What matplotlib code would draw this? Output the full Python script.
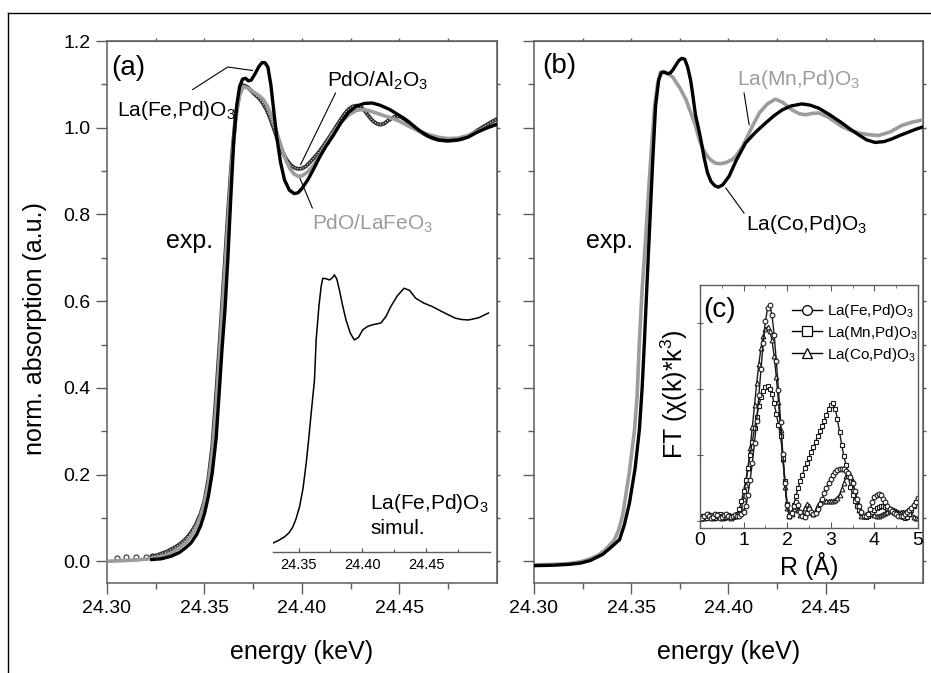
import matplotlib
matplotlib.use('Agg')
import matplotlib.pyplot as plt
from matplotlib.lines import Line2D
from matplotlib.ticker import FixedLocator, MultipleLocator, NullFormatter, NullLocator, FormatStrFormatter

plt.rcParams['font.family'] = ['Liberation Sans', 'DejaVu Sans']
plt.rcParams['mathtext.fontset'] = 'custom'
plt.rcParams['mathtext.rm'] = 'Liberation Sans'
plt.rcParams['mathtext.it'] = 'Liberation Sans:italic'
plt.rcParams['mathtext.default'] = 'regular'

AXC = '#5c5c5c'
GRAY = '#9c9c9c'

# ---- (a) Pd K-edge XANES, experiment ----
e_lafe = [24.323, 24.328, 24.333, 24.337, 24.340, 24.343, 24.346, 24.348, 24.350, 24.352,
          24.354, 24.356, 24.3577, 24.359, 24.3605, 24.362, 24.3635, 24.365, 24.3665, 24.368,
          24.3695, 24.371, 24.3725, 24.374, 24.376, 24.378, 24.3795, 24.381, 24.3825, 24.384,
          24.3855, 24.387, 24.389, 24.391, 24.3935, 24.396, 24.398, 24.400, 24.403, 24.406,
          24.409, 24.412, 24.416, 24.420, 24.424, 24.428, 24.432, 24.436, 24.440, 24.445,
          24.450, 24.455, 24.460, 24.465, 24.470, 24.475, 24.480, 24.485, 24.490, 24.495, 24.500]
mu_lafe = [0.004, 0.006, 0.012, 0.020, 0.030, 0.042, 0.062, 0.082, 0.110, 0.150,
           0.205, 0.285, 0.400, 0.490, 0.580, 0.700, 0.840, 0.970, 1.050, 1.095,
           1.112, 1.114, 1.108, 1.110, 1.125, 1.142, 1.150, 1.150, 1.140, 1.100,
           1.040, 0.980, 0.920, 0.880, 0.856, 0.848, 0.850, 0.860, 0.880, 0.905,
           0.932, 0.955, 0.982, 1.012, 1.036, 1.050, 1.056, 1.057, 1.052, 1.042,
           1.028, 1.012, 0.994, 0.980, 0.972, 0.970, 0.972, 0.978, 0.990, 1.000, 1.008]

e_al = [24.305, 24.310, 24.315, 24.320, 24.323, 24.3255, 24.328, 24.3305, 24.333, 24.3355,
        24.338, 24.3405, 24.343, 24.3455, 24.348, 24.350, 24.352, 24.354, 24.356, 24.358,
        24.360, 24.362, 24.364, 24.366, 24.368, 24.370, 24.372, 24.374, 24.376, 24.378,
        24.380, 24.382, 24.384, 24.386, 24.388, 24.390, 24.392, 24.394, 24.396, 24.398,
        24.400, 24.402, 24.404, 24.406, 24.408, 24.410, 24.412, 24.414, 24.416, 24.418,
        24.420, 24.422, 24.424, 24.426, 24.428, 24.430, 24.432, 24.434, 24.436, 24.438,
        24.440, 24.442, 24.444, 24.446, 24.448, 24.450, 24.452, 24.455, 24.458, 24.461,
        24.464, 24.467, 24.470, 24.474, 24.478, 24.482, 24.486, 24.490, 24.494, 24.497, 24.500]
mu_al = [0.008, 0.009, 0.010, 0.011, 0.012, 0.014, 0.018, 0.022, 0.028, 0.034,
         0.042, 0.052, 0.066, 0.084, 0.110, 0.140, 0.190, 0.265, 0.385, 0.520,
         0.660, 0.800, 0.930, 1.030, 1.080, 1.098, 1.094, 1.085, 1.076, 1.068,
         1.056, 1.040, 1.018, 0.992, 0.966, 0.944, 0.927, 0.915, 0.908, 0.905,
         0.906, 0.911, 0.920, 0.930, 0.940, 0.952, 0.965, 0.978, 0.992, 1.006,
         1.020, 1.033, 1.043, 1.049, 1.051, 1.049, 1.040, 1.028, 1.017, 1.010,
         1.007, 1.009, 1.016, 1.022, 1.026, 1.026, 1.022, 1.012, 1.000, 0.990,
         0.982, 0.976, 0.972, 0.970, 0.971, 0.974, 0.982, 0.994, 1.005, 1.013, 1.020]

e_lfo = [24.300, 24.305, 24.310, 24.315, 24.320, 24.325, 24.330, 24.334, 24.338, 24.341,
         24.344, 24.346, 24.348, 24.350, 24.352, 24.354, 24.356, 24.358, 24.360, 24.362,
         24.364, 24.366, 24.368, 24.370, 24.372, 24.374, 24.376, 24.378, 24.380, 24.382,
         24.384, 24.386, 24.388, 24.390, 24.392, 24.394, 24.396, 24.398, 24.400, 24.403,
         24.406, 24.409, 24.412, 24.416, 24.420, 24.424, 24.428, 24.431, 24.434, 24.438,
         24.442, 24.446, 24.450, 24.455, 24.460, 24.465, 24.470, 24.475, 24.480, 24.485,
         24.490, 24.495, 24.500]
mu_lfo = [0.000, 0.001, 0.002, 0.003, 0.005, 0.008, 0.014, 0.022, 0.034, 0.046,
          0.064, 0.082, 0.105, 0.135, 0.180, 0.250, 0.360, 0.500, 0.640, 0.780,
          0.920, 1.020, 1.075, 1.095, 1.092, 1.086, 1.080, 1.074, 1.066, 1.052,
          1.032, 1.006, 0.976, 0.948, 0.922, 0.904, 0.893, 0.888, 0.889, 0.898,
          0.914, 0.935, 0.958, 0.988, 1.012, 1.030, 1.040, 1.042, 1.040, 1.034,
          1.028, 1.022, 1.015, 1.003, 0.992, 0.984, 0.978, 0.975, 0.976, 0.982,
          0.992, 1.000, 1.008]

# simulated La(Fe,Pd)O3 spectrum (inset energy scale)
e_sim = [24.3295, 24.3340, 24.3391, 24.3425, 24.3456, 24.3480, 24.3508, 24.3535, 24.3560, 24.3580,
         24.3599, 24.3625, 24.3638, 24.3660, 24.3677, 24.3690, 24.3715, 24.3742, 24.3765, 24.3781,
         24.3800, 24.3820, 24.3845, 24.3872, 24.3905, 24.3937, 24.3970, 24.4002, 24.4040, 24.4080,
         24.4145, 24.4185, 24.4223, 24.4275, 24.4327, 24.4370, 24.4418, 24.4480, 24.4547, 24.4625,
         24.4680, 24.4729, 24.4780, 24.4832, 24.4910, 24.4988]
mu_sim = [0.044, 0.050, 0.059, 0.068, 0.082, 0.100, 0.128, 0.170, 0.228, 0.285,
          0.343, 0.420, 0.512, 0.590, 0.635, 0.654, 0.653, 0.650, 0.655, 0.662,
          0.652, 0.627, 0.592, 0.558, 0.528, 0.512, 0.518, 0.535, 0.543, 0.547,
          0.551, 0.566, 0.589, 0.614, 0.631, 0.626, 0.608, 0.597, 0.589, 0.577,
          0.569, 0.562, 0.559, 0.558, 0.563, 0.574]

# ---- (b) ----
e_mn = [24.300, 24.310, 24.318, 24.324, 24.329, 24.333, 24.3365, 24.339, 24.3414, 24.3435,
        24.3455, 24.3466, 24.349, 24.3517, 24.353, 24.3542, 24.3555, 24.3577, 24.359, 24.3605,
        24.362, 24.3635, 24.365, 24.3665, 24.368, 24.370, 24.3715, 24.373, 24.375, 24.3781,
        24.381, 24.383, 24.385, 24.387, 24.389, 24.391, 24.3935, 24.396, 24.399, 24.402,
        24.4037, 24.407, 24.410, 24.4122, 24.416, 24.420, 24.4242, 24.428, 24.4327, 24.4365,
        24.4396, 24.443, 24.4464, 24.451, 24.4583, 24.4625, 24.4668, 24.472, 24.4771, 24.483,
        24.489, 24.4945, 24.500]
mu_mn = [-0.008, -0.007, -0.005, -0.001, 0.006, 0.014, 0.026, 0.038, 0.050, 0.072,
         0.105, 0.135, 0.205, 0.304, 0.380, 0.510, 0.620, 0.765, 0.860, 0.960,
         1.050, 1.100, 1.128, 1.130, 1.126, 1.121, 1.116, 1.105, 1.092, 1.065,
         1.030, 1.005, 0.972, 0.950, 0.935, 0.925, 0.918, 0.917, 0.920, 0.927,
         0.934, 0.955, 0.982, 1.003, 1.035, 1.055, 1.066, 1.058, 1.041, 1.032,
         1.030, 1.033, 1.034, 1.025, 1.003, 0.994, 0.988, 0.984, 0.982, 0.990,
         1.005, 1.013, 1.018]

e_co = [24.300, 24.310, 24.318, 24.324, 24.329, 24.3353, 24.339, 24.3415, 24.344, 24.3465,
        24.3491, 24.352, 24.3542, 24.3556, 24.3568, 24.358, 24.3594, 24.361, 24.3625, 24.3641,
        24.3655, 24.367, 24.3685, 24.370, 24.3715, 24.373, 24.3745, 24.376, 24.3775, 24.379,
        24.3805, 24.3815, 24.383, 24.3845, 24.3858, 24.3875, 24.3892, 24.391, 24.393, 24.3948,
        24.397, 24.4003, 24.404, 24.4088, 24.414, 24.4191, 24.4235, 24.4276, 24.432, 24.4378,
        24.442, 24.4464, 24.452, 24.4583, 24.4625, 24.4668, 24.471, 24.4754, 24.480, 24.4839,
        24.488, 24.492, 24.496, 24.500]
mu_co = [-0.010, -0.009, -0.007, -0.004, 0.002, 0.016, 0.030, 0.040, 0.050, 0.085,
         0.135, 0.215, 0.304, 0.400, 0.510, 0.630, 0.765, 0.920, 1.050, 1.110,
         1.127, 1.128, 1.125, 1.126, 1.134, 1.145, 1.155, 1.160, 1.158, 1.140,
         1.110, 1.080, 1.030, 1.000, 0.972, 0.930, 0.896, 0.876, 0.866, 0.863,
         0.868, 0.888, 0.925, 0.965, 0.990, 1.011, 1.028, 1.041, 1.050, 1.055,
         1.052, 1.045, 1.030, 1.011, 0.997, 0.984, 0.972, 0.966, 0.968, 0.974,
         0.982, 0.989, 0.996, 1.002]

# ---- (c) Fourier transforms, R = 0 ... 5 A in 0.05 A steps ----
r_ft = [round(0.05 * i, 2) for i in range(101)]
ft_fe = [0.06, 0.04, 0.07, 0.10, 0.08, 0.05, 0.06, 0.10, 0.09, 0.05,
         0.06, 0.09, 0.10, 0.07, 0.06, 0.08, 0.09, 0.07, 0.08, 0.10,
         0.14, 0.22, 0.40, 0.62, 0.88, 1.18, 1.52, 1.90, 2.30, 2.70,
         3.02, 3.22, 3.26, 3.12, 2.82, 2.42, 1.98, 1.50, 1.02, 0.58,
         0.24, 0.07, 0.12, 0.22, 0.28, 0.24, 0.14, 0.08, 0.06, 0.12,
         0.18, 0.14, 0.10, 0.12, 0.18, 0.26, 0.34, 0.42, 0.50, 0.58,
         0.64, 0.70, 0.74, 0.77, 0.79, 0.79, 0.78, 0.76, 0.72, 0.66,
         0.57, 0.46, 0.34, 0.22, 0.13, 0.08, 0.07, 0.10, 0.18, 0.28,
         0.36, 0.40, 0.41, 0.39, 0.34, 0.28, 0.22, 0.18, 0.15, 0.12,
         0.10, 0.08, 0.07, 0.08, 0.10, 0.13, 0.16, 0.20, 0.24, 0.29,
         0.35]
ft_mn = [0.05, 0.08, 0.06, 0.04, 0.07, 0.09, 0.06, 0.05, 0.08, 0.10,
         0.07, 0.05, 0.06, 0.09, 0.08, 0.06, 0.07, 0.10, 0.18, 0.30,
         0.45, 0.62, 0.80, 1.00, 1.20, 1.40, 1.58, 1.74, 1.88, 1.97,
         2.02, 2.04, 2.00, 1.92, 1.78, 1.62, 1.45, 1.28, 0.95, 0.60,
         0.25, 0.08, 0.12, 0.24, 0.38, 0.50, 0.60, 0.70, 0.80, 0.88,
         0.96, 1.04, 1.12, 1.20, 1.28, 1.36, 1.44, 1.52, 1.60, 1.70,
         1.76, 1.78, 1.70, 1.55, 1.35, 1.15, 0.98, 0.85, 0.68, 0.52,
         0.40, 0.30, 0.22, 0.16, 0.12, 0.08, 0.06, 0.08, 0.11, 0.14,
         0.17, 0.19, 0.21, 0.22, 0.22, 0.21, 0.20, 0.18, 0.16, 0.14,
         0.12, 0.10, 0.08, 0.06, 0.05, 0.06, 0.10, 0.16, 0.22, 0.28,
         0.34]
ft_co = [0.08, 0.05, 0.04, 0.07, 0.10, 0.07, 0.04, 0.06, 0.09, 0.07,
         0.05, 0.07, 0.09, 0.06, 0.05, 0.07, 0.08, 0.09, 0.12, 0.20,
         0.34, 0.55, 0.80, 1.10, 1.42, 1.75, 2.08, 2.38, 2.62, 2.80,
         2.90, 2.93, 2.88, 2.74, 2.50, 2.18, 1.80, 1.38, 0.94, 0.52,
         0.20, 0.08, 0.10, 0.18, 0.22, 0.16, 0.09, 0.12, 0.20, 0.26,
         0.22, 0.14, 0.10, 0.16, 0.24, 0.28, 0.30, 0.30, 0.30, 0.30,
         0.30, 0.31, 0.32, 0.35, 0.40, 0.48, 0.58, 0.68, 0.72, 0.70,
         0.60, 0.46, 0.30, 0.16, 0.08, 0.07, 0.10, 0.12, 0.12, 0.10,
         0.09, 0.08, 0.08, 0.09, 0.10, 0.12, 0.14, 0.15, 0.16, 0.16,
         0.15, 0.14, 0.13, 0.13, 0.14, 0.15, 0.14, 0.10, 0.06, 0.04,
         0.05]

W, H = 931, 673


def box(l, t, r, b):
    # pixel box -> figure fraction
    return [l / W, 1 - b / H, (r - l) / W, (b - t) / H]


def style_main(ax, labels=True):
    ax.set_xlim(24.30, 24.50)
    ax.set_ylim(-0.05, 1.2)
    ax.xaxis.set_major_locator(FixedLocator([24.30, 24.35, 24.40, 24.45]))
    ax.xaxis.set_minor_locator(FixedLocator([24.325, 24.375, 24.425, 24.475]))
    ax.xaxis.set_major_formatter(FormatStrFormatter('%.2f'))
    ax.yaxis.set_major_locator(FixedLocator([0.0, 0.2, 0.4, 0.6, 0.8, 1.0, 1.2]))
    ax.yaxis.set_minor_locator(FixedLocator([0.1, 0.3, 0.5, 0.7, 0.9, 1.1]))
    ax.yaxis.set_major_formatter(FormatStrFormatter('%.1f'))
    for s in ax.spines.values():
        s.set_color(AXC)
        s.set_linewidth(1.1)
    ax.tick_params(which='both', direction='out', color=AXC, width=1.0, labelsize=14,
                   labelleft=labels)
    ax.tick_params(which='major', length=8, pad=4)
    ax.tick_params(which='minor', length=4)
    top = ax.secondary_xaxis('top')
    top.xaxis.set_major_locator(FixedLocator([24.325, 24.35, 24.375, 24.40, 24.425, 24.45, 24.475]))
    top.xaxis.set_minor_locator(NullLocator())
    top.xaxis.set_major_formatter(NullFormatter())
    top.tick_params(direction='out', length=2.2, width=1.0, color=AXC)
    top.spines['top'].set_color(AXC)
    right = ax.secondary_yaxis('right')
    right.yaxis.set_major_locator(FixedLocator([0.0, 0.1, 0.2, 0.3, 0.4, 0.5, 0.6, 0.7, 0.8, 0.9, 1.0, 1.1]))
    right.yaxis.set_minor_locator(NullLocator())
    right.yaxis.set_major_formatter(NullFormatter())
    right.tick_params(direction='out', length=2.2, width=1.0, color=AXC)
    right.spines['right'].set_color(AXC)
    ax.set_xlabel('energy (keV)', fontsize=18)
    ax.xaxis.set_label_coords(0.5, -0.105)


fig = plt.figure(figsize=(W / 100, H / 100), dpi=100)

# outer frame (top and left edges)
fig.add_artist(Line2D([8 / W, 1], [1 - 13 / H, 1 - 13 / H], transform=fig.transFigure, color='k', lw=1))
fig.add_artist(Line2D([8 / W, 8 / W], [0, 1 - 13 / H], transform=fig.transFigure, color='k', lw=1))

# ---------------- panel (a) ----------------
ax_a = fig.add_axes(box(107, 41, 497, 583))
style_main(ax_a)
ax_a.set_ylabel('norm. absorption (a.u.)', fontsize=18)
ax_a.yaxis.set_label_coords(-0.155, 0.47)

ax_a.plot(e_al[:5], mu_al[:5], ls='none', marker='o', ms=3.6, mfc='white', mec='#303030', mew=0.8, zorder=3)
ax_a.plot(e_al[4:], mu_al[4:], color='#303030', lw=2.8, solid_capstyle='round', zorder=3)
ax_a.plot(e_al[4:], mu_al[4:], color='white', lw=0.9, ls=(0, (0.7, 1.5)), zorder=3.1)
ax_a.plot(e_lfo, mu_lfo, color=GRAY, lw=2.6, zorder=3.2)
ax_a.plot(e_lafe, mu_lafe, color='black', lw=2.4, zorder=3.3)

ax_a.text(24.3024, 1.122, '(a)', fontsize=20)
ax_a.text(24.3051, 1.026, 'La(Fe,Pd)O$_3$', fontsize=15)
ax_a.text(24.4129, 1.094, 'PdO/Al$_2$O$_3$', fontsize=15)
ax_a.text(24.4053, 0.765, 'PdO/LaFeO$_3$', fontsize=15, color=GRAY)
ax_a.text(24.3304, 0.723, 'exp.', fontsize=18)
ax_a.text(24.435, 0.120, 'La(Fe,Pd)O$_3$', fontsize=15)
ax_a.text(24.435, 0.062, 'simul.', fontsize=15)
ax_a.plot([24.3439, 24.3619, 24.3746], [1.088, 1.140, 1.132], color='k', lw=0.8)
ax_a.plot([24.4172, 24.3993], [1.080, 0.915], color='k', lw=0.8)
ax_a.plot([24.3985, 24.4053], [0.888, 0.815], color='k', lw=0.8)

# inset: simulated spectrum with its own energy axis
ax_s = fig.add_axes(box(273, 41, 490, 552))
ax_s.set_facecolor('none')
ax_s.set_xlim(24.33, 24.50)
ax_s.set_ylim(0.024, 1.2)
ax_s.plot(e_sim, mu_sim, color='black', lw=1.1)
for k in ('top', 'left', 'right'):
    ax_s.spines[k].set_visible(False)
ax_s.spines['bottom'].set_color(AXC)
ax_s.spines['bottom'].set_linewidth(1.0)
ax_s.set_yticks([])
ax_s.xaxis.set_major_locator(FixedLocator([24.35, 24.40, 24.45]))
ax_s.xaxis.set_minor_locator(FixedLocator([24.375, 24.425, 24.475]))
ax_s.xaxis.set_major_formatter(FormatStrFormatter('%.2f'))
ax_s.tick_params(which='both', direction='in', color=AXC, width=0.9, labelsize=10.5, pad=4)
ax_s.tick_params(which='major', length=3.2)
ax_s.tick_params(which='minor', length=2)

# ---------------- panel (b) ----------------
ax_b = fig.add_axes(box(534, 41, 923, 583))
style_main(ax_b, labels=False)
ax_b.plot(e_mn, mu_mn, color=GRAY, lw=2.6, zorder=3)
ax_b.plot(e_co, mu_co, color='black', lw=2.4, zorder=3.1)
ax_b.text(24.3044, 1.127, '(b)', fontsize=20)
ax_b.text(24.4042, 1.099, 'La(Mn,Pd)O$_3$', fontsize=15, color=GRAY)
ax_b.text(24.4088, 0.765, 'La(Co,Pd)O$_3$', fontsize=15)
ax_b.text(24.3266, 0.723, 'exp.', fontsize=18)
ax_b.plot([24.408, 24.4106], [1.080, 1.007], color='k', lw=0.8)
ax_b.plot([24.3986, 24.408], [0.861, 0.803], color='k', lw=0.8)

# ---------------- inset (c) ----------------
ax_c = fig.add_axes(box(700, 285, 918, 528))
ax_c.set_facecolor('white')
ax_c.set_xlim(0, 5)
ax_c.set_ylim(-0.106, 3.57)
mk = dict(color='#1a1a1a', lw=1.0, ms=3.4, mfc='white', mec='#1a1a1a', mew=0.8)
ax_c.plot(r_ft, ft_co, marker='^', **mk)
ax_c.plot(r_ft, ft_mn, marker='s', **mk)
ax_c.plot(r_ft, ft_fe, marker='o', **mk)
for s in ax_c.spines.values():
    s.set_color(AXC)
    s.set_linewidth(1.0)
ax_c.xaxis.set_major_locator(MultipleLocator(1))
ax_c.xaxis.set_minor_locator(MultipleLocator(0.5))
ax_c.yaxis.set_major_locator(FixedLocator([0, 1, 2, 3]))
ax_c.yaxis.set_major_formatter(NullFormatter())
ax_c.tick_params(axis='x', which='both', direction='in', top=True, color=AXC, labelsize=14, pad=3)
ax_c.tick_params(axis='x', which='major', length=4)
ax_c.tick_params(axis='x', which='minor', length=2.5)
ax_c.tick_params(axis='y', direction='inout', length=4, color=AXC)
ax_c.set_xlabel('R (Å)', fontsize=18)
ax_c.xaxis.set_label_coords(0.5, -0.10)
ax_c.set_ylabel('FT (χ(k)*k$^3$)', fontsize=18)
ax_c.yaxis.set_label_coords(-0.045, 0.55)
ax_c.text(0.07, 3.09, '(c)', fontsize=20)

hs = [Line2D([], [], color='black', lw=1.0, marker=m, ms=7, mfc='white', mec='black', mew=0.9)
      for m in ('o', 's', '^')]
ax_c.legend(hs, ['La(Fe,Pd)O$_3$', 'La(Mn,Pd)O$_3$', 'La(Co,Pd)O$_3$'], loc='upper left',
            bbox_to_anchor=(0.42, 0.93), frameon=False, fontsize=11, handlelength=2.0,
            handletextpad=0.3, labelspacing=0.25, borderpad=0, borderaxespad=0)

fig.savefig('out.png', dpi=100)
